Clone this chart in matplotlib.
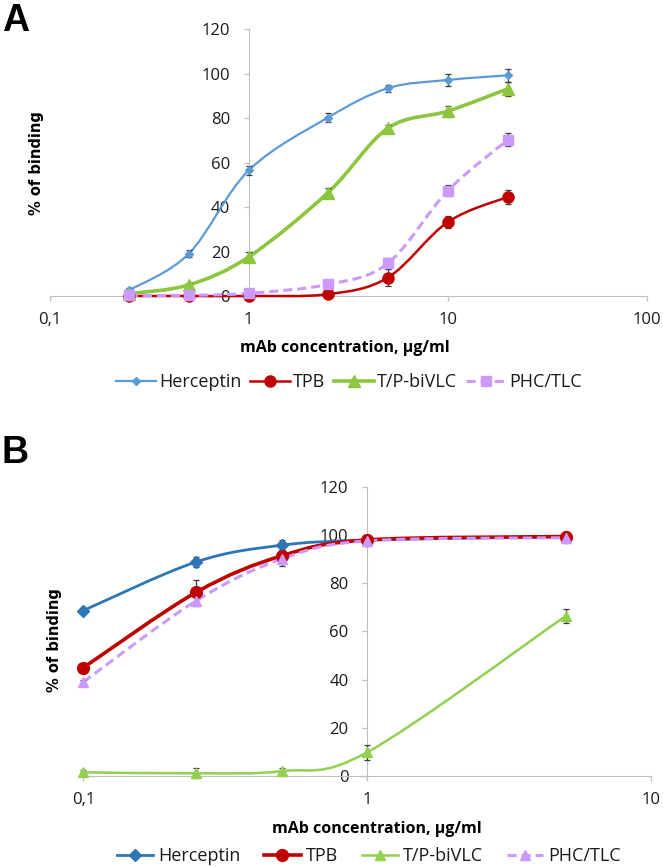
import numpy as np
import matplotlib
matplotlib.use('Agg')
import matplotlib.pyplot as plt
from matplotlib.path import Path
from matplotlib.patches import PathPatch
from matplotlib.lines import Line2D
from matplotlib.ticker import FixedLocator, FuncFormatter

plt.rcParams['font.family'] = ['Open Sans', 'DejaVu Sans']

series_names = ['Herceptin', 'TPB', 'T/P-biVLC', 'PHC/TLC']

# panel A
conc_a = [0.25, 0.5, 1, 2.5, 5, 10, 20]
herceptin_a = [2.5, 19, 56.5, 80.3, 93.5, 97.2, 99.3]
tpb_a = [0, 0, 0, 0.8, 8.3, 33.3, 44.6]
tpbivlc_a = [1, 5, 17.6, 46.5, 75.5, 83.2, 93.2]
phctlc_a = [0.3, 0.3, 1.2, 5.2, 14.7, 47.4, 70.3]
err_herceptin_a = [1, 1.5, 2, 2, 1.5, 2.5, 3]
err_tpb_a = [1, 1, 1, 1, 4, 2.5, 3]
err_tpbivlc_a = [0.5, 1, 2, 2, 1.5, 2.5, 3]
err_phctlc_a = [1, 1, 1, 2, 2.5, 2.5, 3]

# panel B
conc_b = [0.1, 0.25, 0.5, 1, 5]
herceptin_b = [68.6, 88.8, 95.7, 97.8, 99.3]
tpb_b = [44.9, 76.2, 91.3, 97.9, 99.3]
tpbivlc_b = [1.5, 1.1, 2.0, 9.8, 66.3]
phctlc_b = [39.0, 72.7, 90.0, 97.5, 98.8]
err_herceptin_b = [1, 2, 2, 2, 2]
err_tpb_b = [1, 5, 2.5, 2, 2]
err_tpbivlc_b = [1, 2, 1.5, 3, 3]
err_phctlc_b = [1, 2, 3, 2, 2]

y_ticks = [0, 20, 40, 60, 80, 100, 120]


def smooth_path(x, y):
    """Excel-like smoothed line: bezier segments through the points (log x)."""
    u = np.log10(x)
    y = np.asarray(y, float)
    n = len(u)
    verts = [(x[0], y[0])]
    codes = [Path.MOVETO]
    for i in range(n - 1):
        p0 = max(i - 1, 0)
        p3 = min(i + 2, n - 1)
        c1u = u[i] + (u[i + 1] - u[p0]) / 6.0
        c1y = y[i] + (y[i + 1] - y[p0]) / 6.0
        c2u = u[i + 1] - (u[p3] - u[i]) / 6.0
        c2y = y[i + 1] - (y[p3] - y[i]) / 6.0
        verts += [(10 ** c1u, c1y), (10 ** c2u, c2y), (x[i + 1], y[i + 1])]
        codes += [Path.CURVE4] * 3
    return Path(verts, codes)


def draw_series(ax, x, y, err, color, lw, ls, marker, ms):
    patch = PathPatch(smooth_path(x, y), facecolor='none', edgecolor=color,
                      lw=lw, linestyle=ls, clip_on=False, zorder=3)
    ax.add_patch(patch)
    ax.errorbar(x, y, yerr=err, fmt='none', ecolor='#3a3a3a', elinewidth=0.9,
                capsize=2.2, capthick=0.9, clip_on=False, zorder=4)
    ax.plot(x, y, linestyle='none', marker=marker, ms=ms, color=color,
            mec=color, clip_on=False, zorder=5)
    return Line2D([], [], color=color, lw=lw, linestyle=ls, marker=marker, ms=ms)


def style_axes(ax, xmin, xmax, xticks):
    ax.set_xscale('log')
    ax.set_xlim(xmin, xmax)
    ax.set_ylim(0, 120)
    for s in ['top', 'right']:
        ax.spines[s].set_visible(False)
    ax.spines['left'].set_position(('data', 1))
    ax.spines['left'].set_color('#bfbfbf')
    ax.spines['bottom'].set_color('#bfbfbf')
    ax.xaxis.set_major_locator(FixedLocator(xticks))
    ax.xaxis.set_minor_locator(FixedLocator([]))
    ax.xaxis.set_major_formatter(FuncFormatter(lambda v, p: ('%g' % v).replace('.', ',')))
    ax.set_yticks(y_ticks)
    ax.tick_params(axis='both', colors='#bfbfbf', labelcolor='#1a1a1a',
                   labelsize=12, length=3.5, width=0.9)
    ax.tick_params(axis='y', pad=10)
    ax.tick_params(axis='x', pad=8)
    ax.patch.set_alpha(0)


fig = plt.figure(figsize=(6.63, 8.67), dpi=100)

# ---------------- panel A
axa = fig.add_axes([0.0747, 0.6586, 0.9012, 0.3076])
style_axes(axa, 0.1, 100, [0.1, 1, 10, 100])
ha = [
    draw_series(axa, conc_a, herceptin_a, err_herceptin_a, '#5b9bd5', 1.6, '-', 'D', 4),
    draw_series(axa, conc_a, tpb_a, err_tpb_a, '#c00000', 1.8, '-', 'o', 8),
    draw_series(axa, conc_a, tpbivlc_a, err_tpbivlc_a, '#8cc63f', 2.6, '-', '^', 8),
    draw_series(axa, conc_a, phctlc_a, err_phctlc_a, '#cc99ff', 2.2, (0, (3, 1.6)), 's', 6.5),
]
fig.text(2 / 663, 1 - 31 / 867, 'A', fontsize=27, fontweight='bold',
         family='Liberation Sans', ha='left', va='baseline')
fig.text(37 / 663, 1 - 163 / 867, '% of binding', rotation=90, fontsize=10.5,
         fontweight='bold', family='DejaVu Sans', ha='center', va='center')
fig.text(345 / 663, 1 - 348 / 867, 'mAb concentration, µg/ml', fontsize=11.5,
         fontweight='bold', ha='center', va='center')
fig.legend(ha, series_names, loc='center', bbox_to_anchor=(349 / 663, 1 - 382 / 867),
           ncol=4, frameon=False, fontsize=13, handlelength=2.2, handletextpad=0.17,
           columnspacing=0.5, labelcolor='#1a1a1a')

# ---------------- panel B
axb = fig.add_axes([0.1256, 0.1050, 0.8563, 0.3337])
style_axes(axb, 0.1, 10, [0.1, 1, 10])
hb = [
    draw_series(axb, conc_b, herceptin_b, err_herceptin_b, '#2e75b6', 2.0, '-', 'D', 6),
    draw_series(axb, conc_b, tpb_b, err_tpb_b, '#c00000', 2.6, '-', 'o', 8.5),
    draw_series(axb, conc_b, tpbivlc_b, err_tpbivlc_b, '#92d050', 1.8, '-', '^', 7.5),
    draw_series(axb, conc_b, phctlc_b, err_phctlc_b, '#cc99ff', 2.2, (0, (3, 1.6)), '^', 7.5),
]
fig.text(2 / 663, 1 - 463 / 867, 'B', fontsize=27, fontweight='bold',
         family='Liberation Sans', ha='left', va='baseline')
fig.text(54 / 663, 1 - 640 / 867, '% of binding', rotation=90, fontsize=10.5,
         fontweight='bold', family='DejaVu Sans', ha='center', va='center')
fig.text(377 / 663, 1 - 829 / 867, 'mAb concentration, µg/ml', fontsize=11.5,
         fontweight='bold', ha='center', va='center')
fig.legend(hb, series_names, loc='center', bbox_to_anchor=(369 / 663, 1 - 856 / 867),
           ncol=4, frameon=False, fontsize=13, handlelength=2.0, handletextpad=0.3,
           columnspacing=1.3, labelcolor='#1a1a1a')

fig.savefig('out.png', dpi=100)
